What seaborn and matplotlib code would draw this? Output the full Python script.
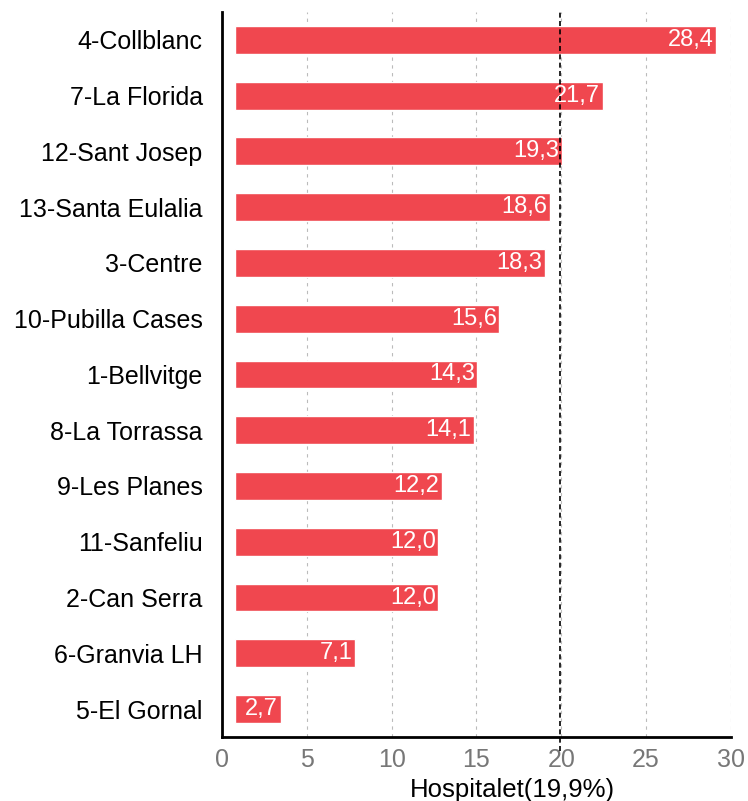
import numpy as np
import pandas as pd
import seaborn as sns
import matplotlib.pyplot as plt

# data
barrios = ["4-Collblanc", "7-La Florida", "12-Sant Josep", "13-Santa Eulalia", "3-Centre",
           "10-Pubilla Cases", "1-Bellvitge", "8-La Torrassa", "9-Les Planes", "11-Sanfeliu",
           "2-Can Serra", "6-Granvia LH", "5-El Gornal"]
valores = [28.4, 21.7, 19.3, 18.6, 18.3, 15.6, 14.3, 14.1, 12.2, 12.0, 12.0, 7.1, 2.7]
media = 19.9
xticks = [0, 5, 10, 15, 20, 25, 30]

df = pd.DataFrame({"barrio": barrios, "valor": valores})

sns.set_style("white")
plt.rcParams["font.family"] = ["Liberation Sans", "DejaVu Sans"]

fig = plt.figure(figsize=(7.48, 8.01), dpi=100)
ax = fig.add_axes([0.297, 0.080, 0.680, 0.905])

sns.barplot(data=df, x="valor", y="barrio", color="#f0474f", saturation=1,
            width=0.5, ax=ax, zorder=2)

# bars start a bit right of the axis line
offset = 0.75
for p in ax.patches:
    p.set_x(p.get_x() + offset)

for i, v in enumerate(valores):
    ax.text(v + offset - 0.15, i, f"{v:.1f}".replace(".", ","), color="white",
            ha="right", va="center", fontsize=17, zorder=3)

ax.set_xlim(0, 30)
ax.set_xticks(xticks)
ax.tick_params(axis="x", labelsize=18, labelcolor="#777777", length=0, pad=8)
ax.tick_params(axis="y", labelsize=18, labelcolor="black", length=0, pad=14)
ax.xaxis.grid(True, linestyle=(0, (3, 4)), color="#bbbbbb", linewidth=0.8, zorder=0)
ax.yaxis.grid(False)

ax.axvline(media, ymin=-0.02, ymax=1.0, color="black", linestyle=(0, (3, 2)),
           linewidth=1.2, zorder=4, clip_on=False)

for s in ["top", "right"]:
    ax.spines[s].set_visible(False)
ax.spines["left"].set_linewidth(2)
ax.spines["bottom"].set_linewidth(2)
ax.spines["left"].set_color("black")
ax.spines["bottom"].set_color("black")

ax.set_ylabel("")
ax.set_xlabel("Hospitalet(19,9%)", fontsize=18.5, color="black")
ax.xaxis.set_label_coords(0.571, -0.056)

plt.savefig("out.png", dpi=100)
